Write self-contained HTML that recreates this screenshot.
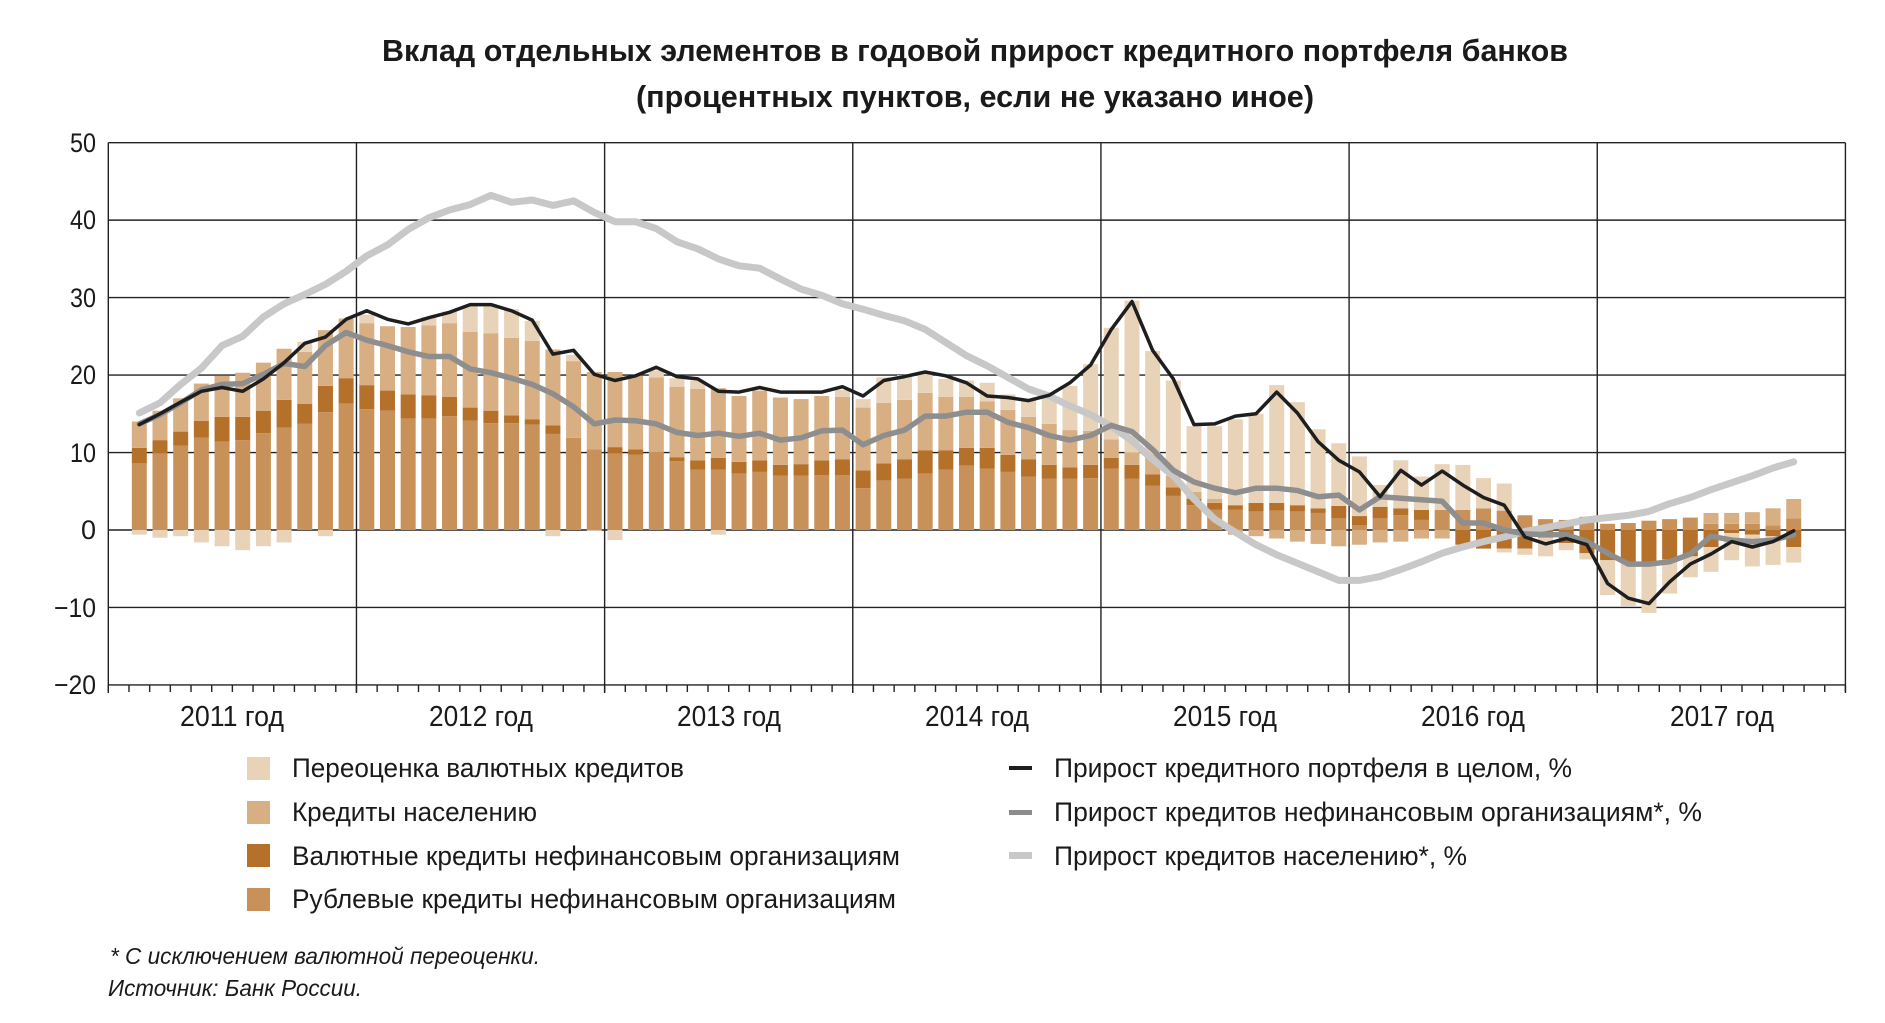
<!DOCTYPE html>
<html><head><meta charset="utf-8">
<style>
html,body{margin:0;padding:0;background:#fff;}
svg{display:block;}
text{font-family:"Liberation Sans","DejaVu Sans",sans-serif;fill:#1a1a1a;}
</style></head>
<body>
<svg id="s" width="1885" height="1023" viewBox="0 0 1885 1023" xmlns="http://www.w3.org/2000/svg">
<text x="975" y="61" font-size="31" font-weight="bold" text-anchor="middle" textLength="1186" lengthAdjust="spacingAndGlyphs">Вклад отдельных элементов в годовой прирост кредитного портфеля банков</text>
<text x="975" y="107" font-size="31" font-weight="bold" text-anchor="middle" textLength="678" lengthAdjust="spacingAndGlyphs">(процентных пунктов, если не указано иное)</text>
<g id="grid"></g>
<g id="bars"></g>
<g id="lines"></g>
<g font-size="27" text-anchor="end">
<text x="96" y="152" textLength="26" lengthAdjust="spacingAndGlyphs">50</text>
<text x="96" y="229" textLength="26" lengthAdjust="spacingAndGlyphs">40</text>
<text x="96" y="307" textLength="26" lengthAdjust="spacingAndGlyphs">30</text>
<text x="96" y="384" textLength="26" lengthAdjust="spacingAndGlyphs">20</text>
<text x="96" y="462" textLength="26" lengthAdjust="spacingAndGlyphs">10</text>
<text x="96" y="539" font-size="27">0</text>
<text x="96" y="617" textLength="42" lengthAdjust="spacingAndGlyphs">−10</text>
<text x="96" y="694" textLength="42" lengthAdjust="spacingAndGlyphs">−20</text>
</g>
<g font-size="29" text-anchor="middle">
<text x="232" y="726" textLength="104" lengthAdjust="spacingAndGlyphs">2011 год</text>
<text x="481" y="726" textLength="104" lengthAdjust="spacingAndGlyphs">2012 год</text>
<text x="729" y="726" textLength="104" lengthAdjust="spacingAndGlyphs">2013 год</text>
<text x="977" y="726" textLength="104" lengthAdjust="spacingAndGlyphs">2014 год</text>
<text x="1225" y="726" textLength="104" lengthAdjust="spacingAndGlyphs">2015 год</text>
<text x="1473" y="726" textLength="104" lengthAdjust="spacingAndGlyphs">2016 год</text>
<text x="1722" y="726" textLength="104" lengthAdjust="spacingAndGlyphs">2017 год</text>
</g>
<g>
<rect x="247" y="757" width="23" height="23" fill="#e8d3b8"/>
<rect x="247" y="801" width="23" height="23" fill="#d8ae83"/>
<rect x="247" y="844" width="23" height="23" fill="#b5712a"/>
<rect x="247" y="888" width="23" height="23" fill="#c8915a"/>
<rect x="1009" y="766" width="23" height="4" fill="#1e1e1e"/>
<rect x="1009" y="810" width="23" height="5" fill="#8c8c8c"/>
<rect x="1009" y="852" width="23" height="7" fill="#c8c8c8"/>
</g>
<g font-size="27">
<text x="292" y="777" textLength="392" lengthAdjust="spacingAndGlyphs">Переоценка валютных кредитов</text>
<text x="292" y="821" textLength="245" lengthAdjust="spacingAndGlyphs">Кредиты населению</text>
<text x="292" y="865" textLength="608" lengthAdjust="spacingAndGlyphs">Валютные кредиты нефинансовым организациям</text>
<text x="292" y="908" textLength="604" lengthAdjust="spacingAndGlyphs">Рублевые кредиты нефинансовым организациям</text>
<text x="1054" y="777" textLength="518" lengthAdjust="spacingAndGlyphs">Прирост кредитного портфеля в целом, %</text>
<text x="1054" y="821" textLength="648" lengthAdjust="spacingAndGlyphs">Прирост кредитов нефинансовым организациям*, %</text>
<text x="1054" y="865" textLength="413" lengthAdjust="spacingAndGlyphs">Прирост кредитов населению*, %</text>
</g>
<g font-size="23" font-style="italic">
<text x="110" y="964" textLength="430" lengthAdjust="spacingAndGlyphs">* С исключением валютной переоценки.</text>
<text x="108" y="996" textLength="254" lengthAdjust="spacingAndGlyphs">Источник: Банк России.</text>
</g>
</svg>
<script>
(function(){
var NS="http://www.w3.org/2000/svg";
var X0=108.3,MW=20.68,Y0=530.0,YU=7.747,X1=1845.3;
function y(v){return Y0-v*YU;}
function x(k){return X0+MW*(k+1.5);}
function el(p,t,a){var e=document.createElementNS(NS,t);for(var i in a)e.setAttribute(i,a[i]);p.appendChild(e);return e;}
var g=document.getElementById('grid');
for(var v=-20;v<=50;v+=10){el(g,'line',{x1:X0,x2:X1,y1:y(v),y2:y(v),stroke:'#222','stroke-width':1.4});}
for(var yr=0;yr<=7;yr++){var xx=X0+yr*12*MW;el(g,'line',{x1:xx,x2:xx,y1:y(50),y2:y(-20)+8,stroke:'#222','stroke-width':1.4});}
for(var m=0;m<=84;m++){var xx=X0+m*MW;el(g,'line',{x1:xx,x2:xx,y1:y(-20),y2:y(-20)+7,stroke:'#222','stroke-width':1.4});}
var C={r:'#c8915a',f:'#b5712a',h:'#d8ae83',v:'#e8d3b8'};
var P=[[8.6,10.6,14.0,14.0],[9.9,11.6,15.4,15.4],[10.9,12.7,17.0,17.0],[11.9,14.1,18.9,18.9],[11.4,14.6,19.9,19.9],[11.6,14.6,20.3,20.3],[12.5,15.4,21.6,21.6],[13.2,16.8,23.4,23.4],[13.7,16.3,23.0,24.3],[15.2,18.6,25.8,25.8],[16.3,19.6,27.3,27.3],[15.6,18.7,26.7,27.8],[15.4,18.0,26.3,26.3],[14.4,17.5,26.2,26.2],[14.4,17.4,26.4,27.5],[14.7,17.2,26.7,28.2],[14.1,15.8,25.6,28.9],[13.8,15.4,25.4,28.9],[13.8,14.8,24.8,28.5],[13.6,14.3,24.4,27.0],[12.4,13.5,23.3,23.3],[11.9,11.9,21.8,22.6],[10.4,10.4,20.4,20.4],[9.9,10.7,20.4,20.4],[9.7,10.4,19.9,19.9],[10.1,10.1,19.7,20.6],[8.9,9.4,18.5,19.6],[7.8,9.0,18.2,19.3],[7.8,9.3,18.3,18.3],[7.3,8.8,17.3,17.3],[7.5,9.0,18.0,18.0],[7.0,8.4,17.1,17.1],[7.0,8.5,16.9,16.9],[7.1,9.0,17.3,17.3],[7.1,9.1,17.2,18.1],[5.4,7.7,15.8,16.9],[6.4,8.6,16.4,19.7],[6.6,9.1,16.8,20.0],[7.3,10.3,17.7,20.4],[7.8,10.3,17.2,19.5],[8.3,10.6,17.2,19.3],[7.9,10.6,16.6,19.0],[7.5,9.7,15.5,17.5],[6.9,9.1,14.6,16.9],[6.6,8.4,13.7,17.3],[6.6,8.1,12.9,18.6],[6.7,8.4,12.8,21.4],[7.9,9.3,11.7,26.1],[6.6,8.4,10.0,29.6],[5.7,7.2,9.7,23.1],[4.4,5.5,7.0,19.3],[3.2,4.0,4.9,13.4],[2.6,3.5,4.0,13.4],[2.6,3.2,3.2,14.3],[2.4,3.5,3.5,15.0],[2.5,3.5,3.5,18.7],[2.4,3.2,3.2,16.5],[2.2,2.8,2.8,13.0],[1.5,3.1,3.1,11.2],[0.6,1.8,1.8,9.5],[1.5,3.0,3.0,5.8],[1.9,2.8,2.8,9.0],[1.3,2.6,2.6,6.9],[2.6,2.6,2.6,8.5],[2.6,2.6,2.6,8.4],[2.8,2.8,2.8,6.7],[2.5,2.5,2.5,6.0],[1.9,1.9,1.9,1.9],[1.4,1.4,1.4,1.4],[1.3,1.3,1.3,1.3],[1.7,1.7,1.7,1.7],[0.8,0.8,0.8,0.8],[0.9,0.9,0.9,0.9],[1.2,1.2,1.2,1.2],[1.4,1.4,1.4,1.4],[1.6,1.6,1.6,1.6],[0.8,0.8,2.2,2.2],[0.8,0.8,2.2,2.2],[0.8,0.8,2.3,2.3],[0.6,0.6,2.8,2.8],[1.5,1.5,4.0,4.0]];
var N=[-0.6,-1.0,-0.8,-1.6,-2.1,-2.6,-2.1,-1.6,0,-0.8,0,0,0,0,0,0,0,0,0,0,-0.8,0,-0.1,-1.3,0,0,0,0,-0.6,0,0,0,0,0,0,0,0,0,0,0,0,0,0,0,0,0,0,0,0,0,0,0,0,-0.6,-0.8,-1.1,-1.5,-1.8,-2.1,-1.9,-1.6,-1.5,-1.1,-1.1];
var N2=[[-1.9,-1.9],[-2.4,-2.4],[-2.4,-2.9],[-2.4,-3.2],[-1.0,-3.4],[-1.7,-2.6],[-3.0,-3.8],[-3.9,-8.4],[-4.1,-9.8],[-4.1,-10.7],[-3.8,-8.2],[-3.4,-6.1],[-2.2,-5.4],[-0.4,-3.9],[-0.6,-4.7],[-0.8,-4.5],[-2.2,-4.2]];
var b=document.getElementById('bars'),BW=15;
function seg(k,a,c,col){if(Math.abs(c-a)<0.01)return;var t=y(Math.max(a,c)),bt=y(Math.min(a,c));el(b,'rect',{x:x(k)-BW/2,y:t,width:BW,height:bt-t,fill:col});}
for(var k=0;k<81;k++){var p=P[k];
seg(k,0,p[0],C.r);seg(k,p[0],p[1],C.f);seg(k,p[1],p[2],C.h);seg(k,p[2],p[3],C.v);
if(k<64){seg(k,0,N[k],k>=53?C.h:C.v);}else{var n=N2[k-64];seg(k,0,n[0],C.f);seg(k,n[0],n[1],C.v);}}
var H=[15.1,16.4,18.8,20.9,23.8,25.0,27.5,29.2,30.4,31.7,33.4,35.4,36.8,38.8,40.3,41.3,42.0,43.2,42.3,42.6,41.9,42.5,41.0,39.8,39.8,38.9,37.2,36.3,35.0,34.1,33.8,32.4,31.1,30.3,29.2,28.5,27.7,27.0,25.9,24.2,22.5,21.2,19.7,18.2,17.3,16.0,14.9,13.4,11.5,9.1,7.0,4.0,1.4,-0.3,-1.9,-3.2,-4.3,-5.4,-6.5,-6.5,-6.0,-5.1,-4.1,-3.0,-2.2,-1.5,-0.9,-0.2,0.3,0.8,1.3,1.6,1.9,2.4,3.4,4.2,5.2,6.1,7.0,8.0,8.8];
var G=[13.7,14.9,16.4,18.1,18.8,18.9,20.1,21.5,21.1,23.8,25.5,24.5,23.8,23.0,22.4,22.4,20.8,20.3,19.6,18.8,17.6,15.9,13.7,14.2,14.1,13.7,12.6,12.2,12.5,12.1,12.5,11.6,11.9,12.8,12.9,11.0,12.2,12.9,14.7,14.7,15.2,15.2,13.9,13.2,12.2,11.6,12.2,13.5,12.7,10.4,7.7,6.2,5.4,4.8,5.4,5.4,5.1,4.3,4.5,2.6,4.3,4.1,3.9,3.7,0.9,0.9,0.0,-0.5,-0.6,-0.6,-1.5,-3.0,-4.4,-4.4,-4.1,-3.1,-0.8,-1.3,-1.5,-1.3,-0.6];
var T=[13.6,15.0,16.5,17.9,18.4,17.9,19.5,21.6,24.1,24.9,27.2,28.3,27.2,26.6,27.4,28.1,29.1,29.1,28.3,27.1,22.7,23.2,20.1,19.3,19.9,21.0,19.8,19.5,17.9,17.8,18.4,17.8,17.8,17.8,18.5,17.3,19.3,19.8,20.4,19.9,19.0,17.3,17.1,16.7,17.4,19.0,21.3,25.9,29.5,23.2,19.5,13.6,13.7,14.7,15.0,17.8,15.1,11.4,9.0,7.5,4.3,7.7,5.8,7.6,5.8,4.2,3.2,-0.9,-1.8,-1.1,-1.9,-6.9,-8.8,-9.5,-6.7,-4.4,-3.1,-1.5,-2.2,-1.5,-0.1];
var L=document.getElementById('lines');
function line(d,col,w){var s='';for(var i=0;i<d.length;i++)s+=(i?'L':'M')+x(i).toFixed(1)+' '+y(d[i]).toFixed(1);el(L,'path',{d:s,fill:'none',stroke:col,'stroke-width':w,'stroke-linejoin':'round','stroke-linecap':'round'});}
line(H,'#c8c8c8',7);line(G,'#8e8e8e',5.5);line(T,'#1e1e1e',3.5);
})();
</script>
</body></html>
